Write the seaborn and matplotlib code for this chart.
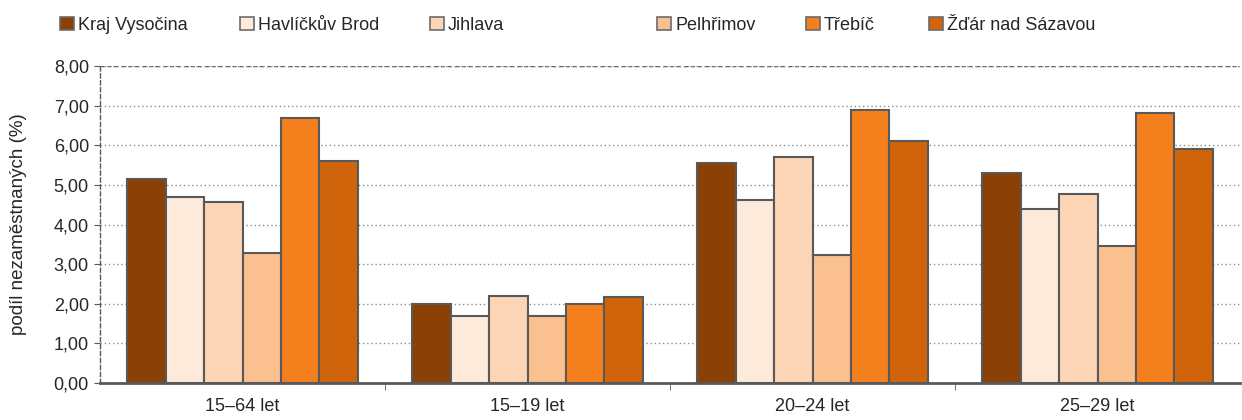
import numpy as np
import pandas as pd
import matplotlib
matplotlib.use("Agg")
import matplotlib.pyplot as plt
import seaborn as sns
from matplotlib.patches import Patch
from matplotlib.ticker import FuncFormatter, FixedLocator

groups = ["15–64 let", "15–19 let", "20–24 let", "25–29 let"]
regions = ["Kraj Vysočina", "Havlíčkův Brod", "Jihlava", "Pelhřimov", "Třebíč", "Žďár nad Sázavou"]
kraj = [5.14, 2.00, 5.54, 5.30]
havl_brod = [4.69, 1.70, 4.63, 4.38]
jihlava = [4.58, 2.20, 5.70, 4.78]
pelhrimov = [3.27, 1.70, 3.22, 3.47]
trebic = [6.70, 2.00, 6.90, 6.81]
zdar = [5.59, 2.16, 6.11, 5.90]
colors = ["#8B4006", "#FDEADA", "#FBD5B5", "#FAC090", "#F47F1D", "#CF640A"]

series = [kraj, havl_brod, jihlava, pelhrimov, trebic, zdar]
rows = []
for reg, vals in zip(regions, series):
    for g, v in zip(groups, vals):
        rows.append({"group": g, "region": reg, "value": v})
df = pd.DataFrame(rows)

sns.set_style("white")
plt.rcParams["font.family"] = ["Liberation Sans", "DejaVu Sans"]

W, H = 1242, 420
fig, ax = plt.subplots(figsize=(W / 100, H / 100), dpi=100)
fig.subplots_adjust(left=100 / W, right=1240 / W, top=1 - 66 / H, bottom=1 - 383 / H)

sns.barplot(data=df, x="group", y="value", hue="region", palette=colors,
            order=groups, hue_order=regions, width=0.81, ax=ax, saturation=1,
            edgecolor="#595959", linewidth=1.5, legend=False, errorbar=None)

ax.set_ylim(0, 8)
ax.set_xlim(-0.5, 3.5)
ax.yaxis.set_major_locator(FixedLocator(np.arange(0, 8.01, 1)))
ax.yaxis.set_major_formatter(FuncFormatter(lambda v, p: f"{v:.2f}".replace(".", ",")))
ax.grid(axis="y", linestyle=(0, (1, 2)), color="#8c8c8c", linewidth=1)
ax.set_axisbelow(True)
ax.axhline(8, color="#595959", linestyle=(0, (3, 2)), linewidth=1, zorder=0.5)

for s in ["top", "right"]:
    ax.spines[s].set_visible(False)
ax.spines["left"].set_linestyle((0, (3, 2)))
ax.spines["left"].set_color("#595959")
ax.spines["left"].set_linewidth(1)
ax.spines["bottom"].set_color("#595959")
ax.spines["bottom"].set_linewidth(2)

fs = 13
ax.tick_params(axis="y", which="major", direction="out", length=4, color="#595959",
               labelsize=fs, pad=4, left=True)
ax.tick_params(axis="x", which="major", length=0, labelsize=fs, pad=11)
ax.set_xticks([0.5, 1.5, 2.5], minor=True)
ax.tick_params(axis="x", which="minor", direction="out", length=5, color="#595959", bottom=True)

ax.set_xlabel("")
ax.set_ylabel("podíl nezaměstnaných (%)", fontsize=13.5)
ax.yaxis.set_label_coords(-(100 - 27) / 1140, 0.5)

# legend entries placed individually, like the source chart
legend_x = [60, 240, 430, 657, 806, 929]
for c, reg, px in zip(colors, regions, legend_x):
    h = Patch(facecolor=c, edgecolor="#6b6b6b", linewidth=1.2)
    fig.legend([h], [reg], loc="center left", bbox_to_anchor=(px / W, 1 - 25 / H),
               frameon=False, fontsize=fs, handlelength=0.75, handleheight=0.75,
               handletextpad=0.25, borderpad=0, borderaxespad=0)

fig.savefig("out.png", dpi=100)
